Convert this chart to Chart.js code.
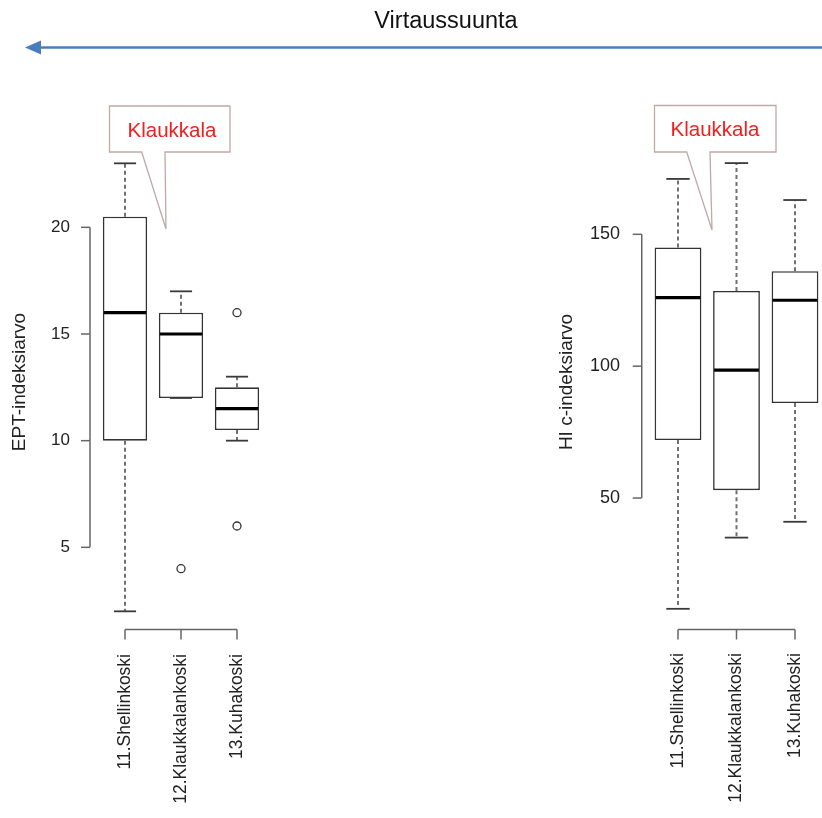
<!DOCTYPE html>
<html>
<head>
<meta charset="utf-8">
<script src="https://cdn.jsdelivr.net/npm/chart.js@4/dist/chart.umd.min.js"></script>
<style>
  html, body { margin: 0; padding: 0; background: #fff; overflow: hidden; }
  #wrap { position: relative; width: 822px; height: 818px; overflow: hidden; background: #fff; }
  canvas { position: absolute; top: 0; }
  svg { position: absolute; left: 0; top: 0; }
</style>
</head>
<body>
<div id="wrap">
  <canvas id="ept" width="300" height="818" style="left:0px"></canvas>
  <canvas id="hi" width="310" height="818" style="left:540px"></canvas>
  <svg width="822" height="818" xmlns="http://www.w3.org/2000/svg">
    <text x="446" y="28" text-anchor="middle" font-family="Liberation Sans, Arial, sans-serif" font-size="23.5" fill="#111">Virtaussuunta</text>
    <line x1="822" y1="47.5" x2="36" y2="47.5" stroke="#4a7ebb" stroke-width="2.5"/>
    <polygon points="25,47.5 41,40.5 41,54.5" fill="#4a7ebb"/>
    <path d="M109.5,106 L230,106 L230,152 L165,152 L166,229 L141.7,152 L109.5,152 Z" fill="#fff" stroke="#bfa9a9" stroke-width="1.3"/>
    <text x="172" y="137" text-anchor="middle" font-family="Liberation Sans, Arial, sans-serif" font-size="20.5" fill="#f21d1d">Klaukkala</text>
    <path d="M654.5,105.5 L776,105.5 L776,152 L710,152 L712,230 L686.7,152 L654.5,152 Z" fill="#fff" stroke="#bfa9a9" stroke-width="1.3"/>
    <text x="715" y="136" text-anchor="middle" font-family="Liberation Sans, Arial, sans-serif" font-size="20.5" fill="#f21d1d">Klaukkala</text>
  </svg>
</div>
<script>
// ---- data ----
const categories = ['11.Shellinkoski', '12.Klaukkalankoski', '13.Kuhakoski'];

const eptMin    = [2, 12, 10];
const eptQ1     = [10, 12, 10.5];
const eptMedian = [16, 15, 11.5];
const eptQ3     = [20.5, 16, 12.5];
const eptMax    = [23, 17, 13];
const eptOutlierCats = ['12.Klaukkalankoski', '13.Kuhakoski', '13.Kuhakoski'];
const eptOutlierVals = [4, 16, 6];
const eptTicks  = [5, 10, 15, 20];

const hiMin    = [8, 35, 41];
const hiQ1     = [72, 53, 86];
const hiMedian = [126, 98.5, 125];
const hiQ3     = [145, 128.5, 136];
const hiMax    = [171, 177, 163];
const hiOutlierCats = [];
const hiOutlierVals = [];
const hiTicks  = [50, 100, 150];

const FONT = 'Liberation Sans, Arial, sans-serif';

function seg(ctx, x1, y1, x2, y2) {
  ctx.beginPath(); ctx.moveTo(x1, y1); ctx.lineTo(x2, y2); ctx.stroke();
}

const boxPlugin = {
  id: 'boxWhiskers',
  beforeDatasetsDraw(chart, args, o) {
    const ctx = chart.ctx, y = chart.scales.y;
    const meta = chart.getDatasetMeta(0);
    ctx.save();
    meta.data.forEach((bar, i) => {
      const x = bar.x;
      ctx.strokeStyle = '#707070'; ctx.lineWidth = 2; ctx.setLineDash([4, 3]);
      seg(ctx, x, y.getPixelForValue(o.q3[i]), x, y.getPixelForValue(o.max[i]));
      seg(ctx, x, y.getPixelForValue(o.q1[i]), x, y.getPixelForValue(o.min[i]));
    });
    ctx.restore();
  },
  afterDatasetsDraw(chart, args, o) {
    const ctx = chart.ctx, y = chart.scales.y;
    const meta = chart.getDatasetMeta(0);
    ctx.save();
    meta.data.forEach((bar, i) => {
      const x = bar.x, w = bar.width;
      ctx.setLineDash([]);
      ctx.strokeStyle = '#3a3a3a'; ctx.lineWidth = 1.8;
      seg(ctx, x - w / 4, y.getPixelForValue(o.max[i]), x + w / 4, y.getPixelForValue(o.max[i]));
      seg(ctx, x - w / 4, y.getPixelForValue(o.min[i]), x + w / 4, y.getPixelForValue(o.min[i]));
      ctx.strokeStyle = '#000'; ctx.lineWidth = 3.2;
      seg(ctx, x - w / 2 + 1, y.getPixelForValue(o.median[i]), x + w / 2 - 1, y.getPixelForValue(o.median[i]));
    });
    ctx.restore();
  },
  afterDraw(chart, args, o) {
    const ctx = chart.ctx, y = chart.scales.y, xs = chart.scales.x, ca = chart.chartArea;
    ctx.save();
    ctx.strokeStyle = '#666'; ctx.lineWidth = 1.5;
    const ax = ca.left - 7;
    const t = o.ticks;
    seg(ctx, ax, y.getPixelForValue(t[0]), ax, y.getPixelForValue(t[t.length - 1]));
    t.forEach(v => { const py = y.getPixelForValue(v); seg(ctx, ax - 9, py, ax, py); });
    const by = ca.bottom + 7.5;
    const x0 = xs.getPixelForValue(0), x2 = xs.getPixelForValue(categories.length - 1);
    seg(ctx, x0, by, x2, by);
    categories.forEach((c, i) => { const px = xs.getPixelForValue(i); seg(ctx, px, by, px, by + 10); });
    ctx.restore();
  }
};

function makeChart(id, c) {
  return new Chart(document.getElementById(id), {
    type: 'bar',
    data: {
      labels: categories,
      datasets: [
        {
          type: 'bar',
          data: categories.map((_, i) => [c.q1[i], c.q3[i]]),
          backgroundColor: '#fff',
          borderColor: '#333',
          borderWidth: 1.6,
          borderSkipped: false,
          barPercentage: c.barPct,
          categoryPercentage: 1,
          order: 2
        },
        {
          type: 'line',
          data: c.outCats.map((cat, i) => ({ x: cat, y: c.outVals[i] })),
          showLine: false,
          pointRadius: 4,
          pointStyle: 'circle',
          pointBackgroundColor: 'rgba(255,255,255,0)',
          pointBorderColor: '#333',
          pointBorderWidth: 1.3,
          order: 1
        }
      ]
    },
    options: {
      responsive: false,
      animation: false,
      devicePixelRatio: 1,
      events: [],
      layout: { padding: { top: 142, left: 0, right: c.padRight, bottom: 0 } },
      plugins: {
        legend: { display: false },
        tooltip: { enabled: false },
        boxWhiskers: { min: c.min, q1: c.q1, median: c.median, q3: c.q3, max: c.max, ticks: c.ticks }
      },
      scales: {
        x: {
          type: 'category',
          offset: true,
          grid: { display: false, drawTicks: false },
          border: { display: false },
          ticks: {
            minRotation: 90, maxRotation: 90, autoSkip: false,
            padding: c.xPad,
            font: { family: FONT, size: 17.5 },
            color: '#222'
          },
          afterFit: s => { s.height = 196; s.paddingLeft = 0; s.paddingRight = 0; }
        },
        y: {
          type: 'linear',
          min: c.yMin, max: c.yMax,
          grid: { display: false, drawTicks: false },
          border: { display: false },
          afterBuildTicks: s => { s.ticks = c.ticks.map(v => ({ value: v })); },
          ticks: {
            padding: c.yPad,
            font: { family: FONT, size: c.tickSize },
            color: '#222'
          },
          title: {
            display: true, text: c.yTitle,
            font: { family: FONT, size: 19 }, color: '#222',
            padding: { top: c.titlePad, bottom: 0 }
          },
          afterFit: s => { s.width = c.yWidth; s.paddingTop = 0; s.paddingBottom = 0; }
        }
      }
    },
    plugins: [boxPlugin]
  });
}

makeChart('ept', {
  min: eptMin, q1: eptQ1, median: eptMedian, q3: eptQ3, max: eptMax,
  outCats: eptOutlierCats, outVals: eptOutlierVals, ticks: eptTicks,
  yMin: 1.5, yMax: 24, yWidth: 97, padRight: 35, barPct: 0.79,
  yPad: 27, xPad: 32, tickSize: 17, titlePad: 8.6, yTitle: 'EPT-indeksiarvo'
});

makeChart('hi', {
  min: hiMin, q1: hiQ1, median: hiMedian, q3: hiQ3, max: hiMax,
  outCats: hiOutlierCats, outVals: hiOutlierVals, ticks: hiTicks,
  yMin: 3, yMax: 185, yWidth: 108.75, padRight: 25.75, barPct: 0.8,
  yPad: 28.75, xPad: 31, tickSize: 18, titlePad: 15.6, yTitle: 'HI c-indeksiarvo'
});
</script>
</body>
</html>
